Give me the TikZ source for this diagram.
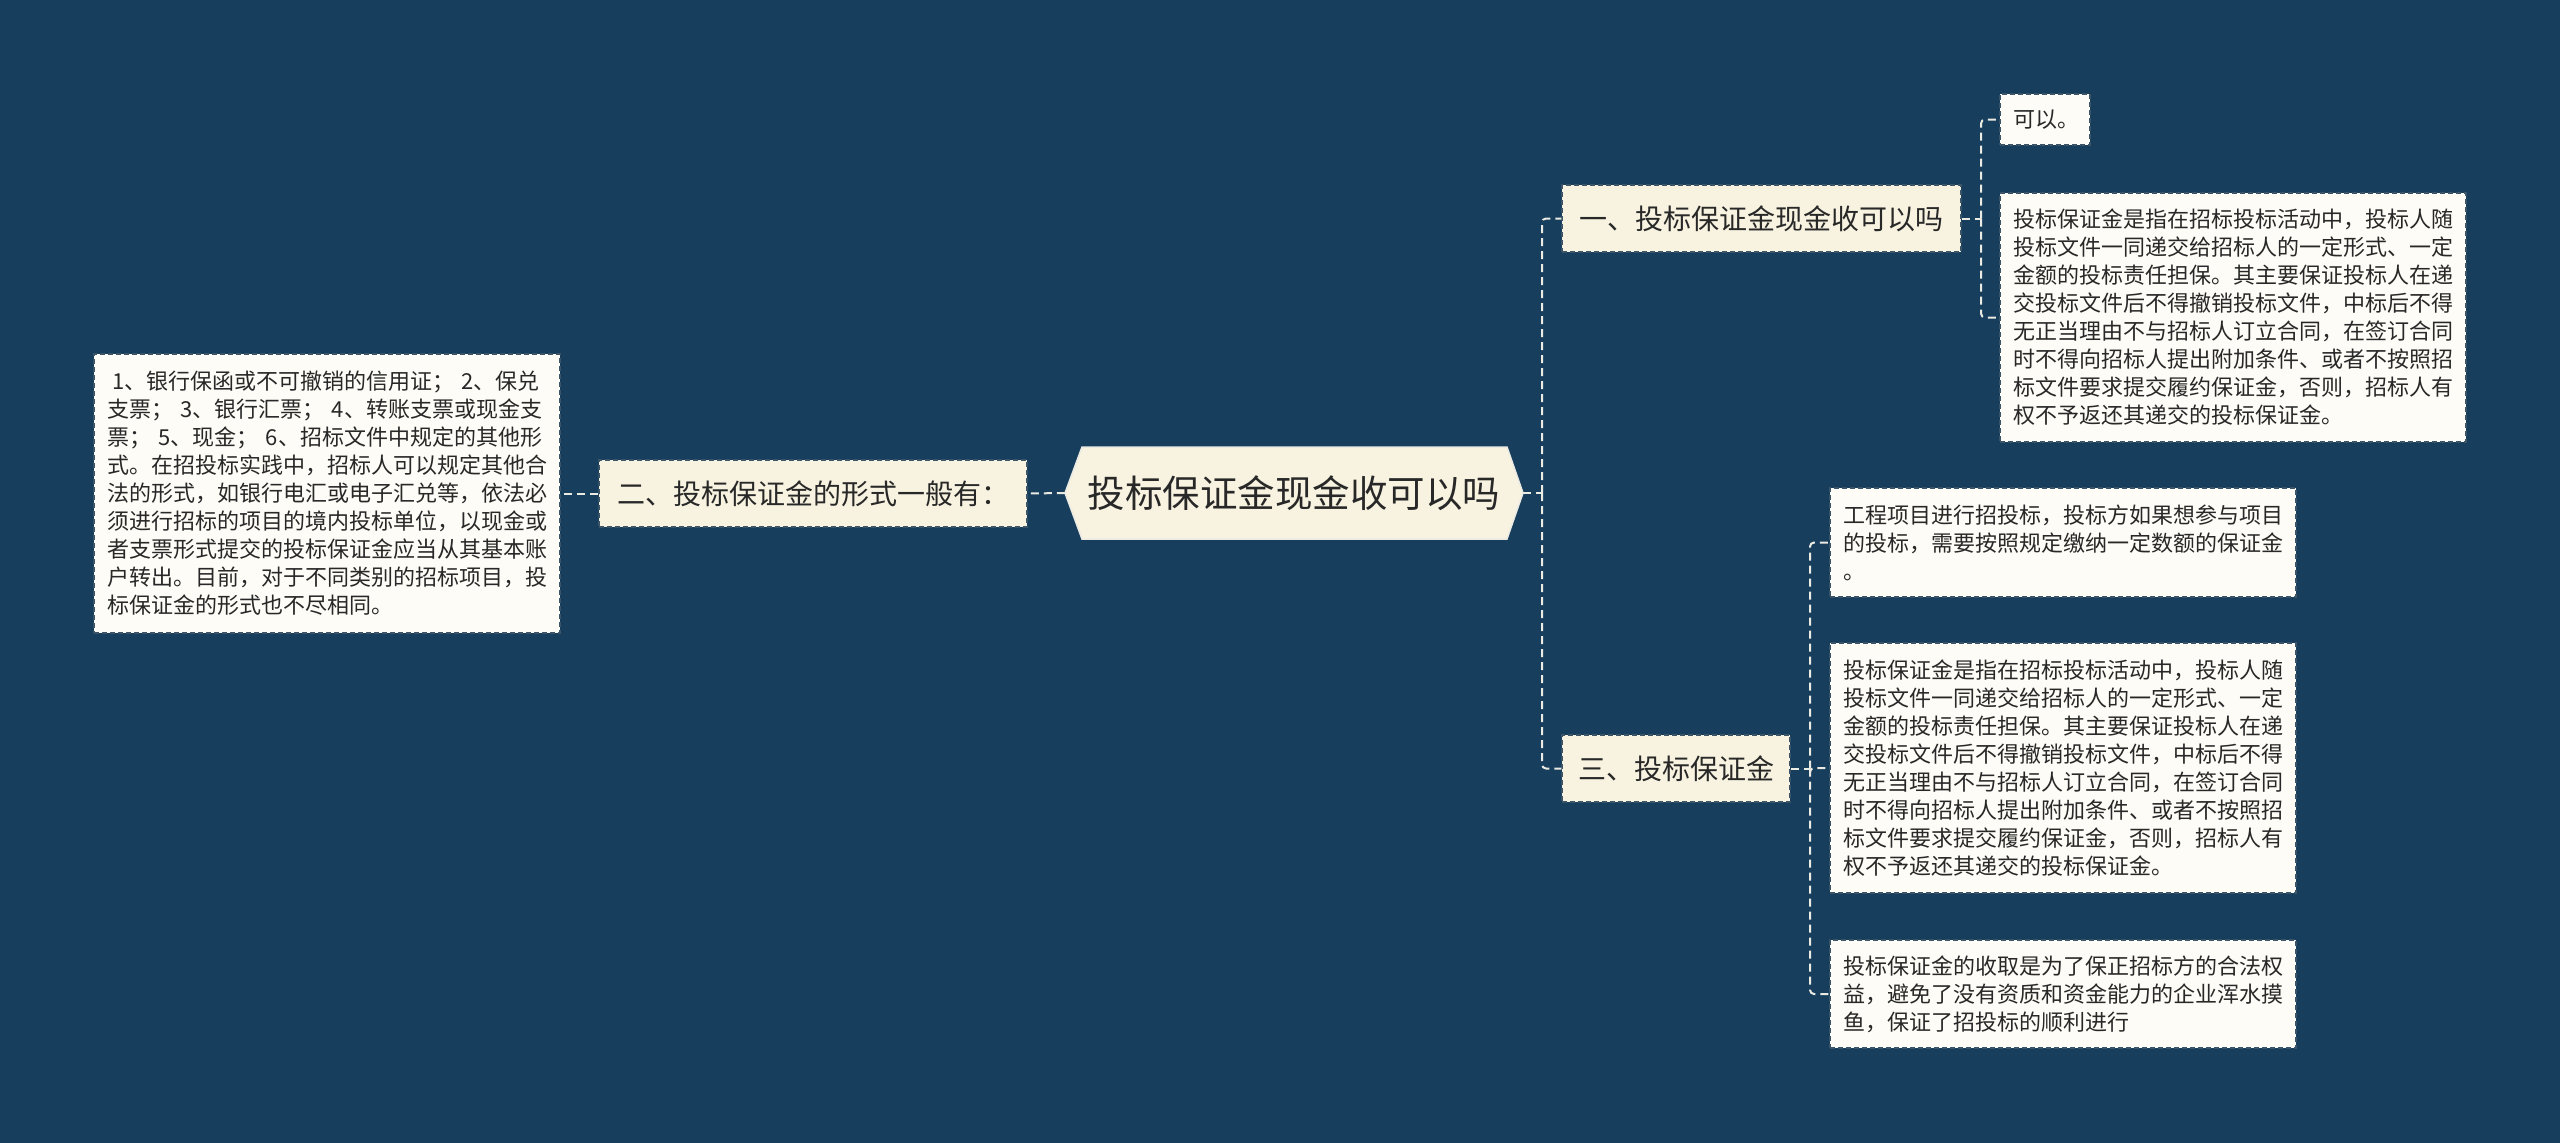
\documentclass[tikz,border=0pt]{standalone}
\usepackage{fontspec}
\newfontfamily\cjk{Noto Sans CJK SC}
\definecolor{bg}{RGB}{24,62,93}
\definecolor{linec}{RGB}{235,235,228}
\definecolor{bord}{RGB}{60,84,104}
\definecolor{bfill}{RGB}{248,243,224}
\definecolor{lfill}{RGB}{253,252,246}
\definecolor{txt}{RGB}{40,40,40}
\begin{document}
\begin{tikzpicture}[x=1pt,y=-1pt,
  conn/.style={draw=linec, line width=2pt, dash pattern=on 8pt off 5pt, rounded corners=4pt},
  rootbox/.style={draw=none, inner sep=0pt, minimum width=458pt, minimum height=92pt, text=txt, font=\cjk\fontsize{37.5}{45}\selectfont},
  branch/.style={draw=bord, fill=bfill, line width=1.2pt, dash pattern=on 5pt off 3pt, inner sep=0pt, minimum height=67pt, text=txt, font=\cjk\fontsize{28}{34}\selectfont},
  leaf/.style={draw=bord, fill=lfill, line width=1.2pt, dash pattern=on 5pt off 3pt, inner xsep=13pt, inner ysep=0pt, text width=440pt, align=left, text=txt, font=\cjk\fontsize{22}{28}\selectfont}
]
\useasboundingbox[fill=bg] (0,0) rectangle (2560,1143);

% root hexagon
\filldraw[fill=bfill, draw=linec, line width=1.5pt] (1065,493) -- (1082,447) -- (1507,447) -- (1523,493) -- (1507,539) -- (1082,539) -- cycle;
\node[rootbox] (root) at (1294,493) {投标保证金现金收可以吗};

% branches
\node[branch, minimum width=399pt] (b1) at (1761.5,218.5) {一、投标保证金现金收可以吗};
\node[branch, minimum width=428pt] (b2) at (813,493.5) {二、投标保证金的形式一般有：};
\node[branch, minimum width=228pt] (b3) at (1676,768.5) {三、投标保证金};

% leaves
\node[leaf, text width=64pt, minimum height=51pt] (l1) at (2045,119.5) {可以。};
\node[leaf, minimum height=249pt] (l2) at (2233,317.5) {投标保证金是指在招标投标活动中，投标人随\\投标文件一同递交给招标人的一定形式、一定\\金额的投标责任担保。其主要保证投标人在递\\交投标文件后不得撤销投标文件，中标后不得\\无正当理由不与招标人订立合同，在签订合同\\时不得向招标人提出附加条件、或者不按照招\\标文件要求提交履约保证金，否则，招标人有\\权不予返还其递交的投标保证金。};
\node[leaf, minimum height=279pt] (l3) at (327,493.5) {\hspace*{5pt}1、银行保函或不可撤销的信用证； 2、保兑\\支票； 3、银行汇票； 4、转账支票或现金支\\票； 5、现金； 6、招标文件中规定的其他形\\式。在招投标实践中，招标人可以规定其他合\\法的形式，如银行电汇或电子汇兑等，依法必\\须进行招标的项目的境内投标单位，以现金或\\者支票形式提交的投标保证金应当从其基本账\\户转出。目前，对于不同类别的招标项目，投\\标保证金的形式也不尽相同。};
\node[leaf, minimum height=109pt] (l4) at (2063,542.5) {工程项目进行招投标，投标方如果想参与项目\\的投标，需要按照规定缴纳一定数额的保证金\\。};
\node[leaf, minimum height=250pt] (l5) at (2063,768) {投标保证金是指在招标投标活动中，投标人随\\投标文件一同递交给招标人的一定形式、一定\\金额的投标责任担保。其主要保证投标人在递\\交投标文件后不得撤销投标文件，中标后不得\\无正当理由不与招标人订立合同，在签订合同\\时不得向招标人提出附加条件、或者不按照招\\标文件要求提交履约保证金，否则，招标人有\\权不予返还其递交的投标保证金。};
\node[leaf, minimum height=108pt] (l6) at (2063,994) {投标保证金的收取是为了保正招标方的合法权\\益，避免了没有资质和资金能力的企业浑水摸\\鱼，保证了招投标的顺利进行};

% spines
\coordinate (sR) at (1542,493);
\coordinate (s1) at (1981,218.5);
\coordinate (s3) at (1810,768.5);

% connectors
\draw[conn] (root.east) -- (sR);
\draw[conn] (sR) |- (b1.west);
\draw[conn] (sR) |- (b3.west);
\draw[conn] (root.west) -- (b2.east);
\draw[conn] (b2.west) -- (l3.east);
\draw[conn] (b1.east) -- (s1);
\draw[conn] (s1) |- (l1.west);
\draw[conn] (s1) |- (l2.west);
\draw[conn] (b3.east) -- (s3);
\draw[conn] (s3) |- (l4.west);
\draw[conn] (s3) |- (l5.west);
\draw[conn] (s3) |- (l6.west);
\end{tikzpicture}
\end{document}
